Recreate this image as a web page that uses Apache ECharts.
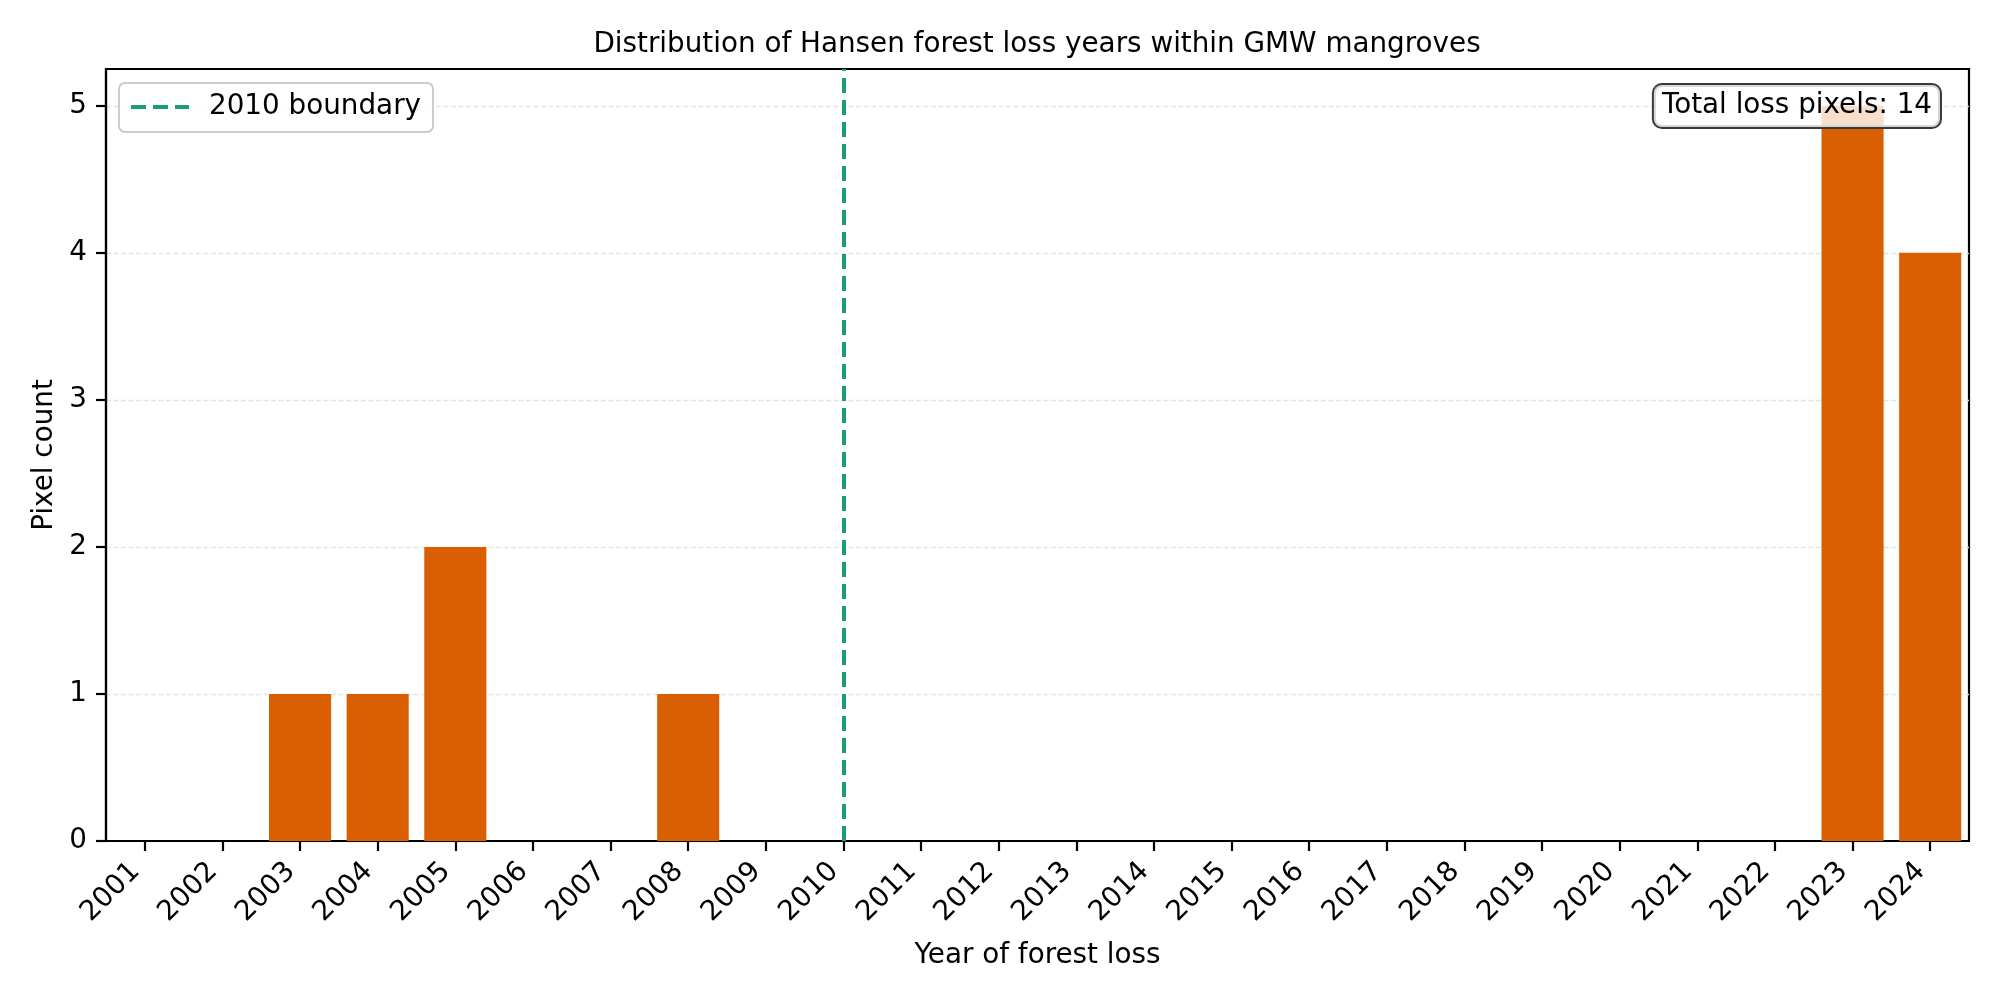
<!DOCTYPE html>
<html>
<head>
<meta charset="utf-8">
<script src="https://cdn.jsdelivr.net/npm/echarts@6/dist/echarts.min.js"></script>
<style>
html,body{margin:0;padding:0;background:#fff;overflow:hidden}
#chart{width:2000px;height:1000px}
</style>
</head>
<body>
<div id="chart"></div>
<script>
const years = ['2001','2002','2003','2004','2005','2006','2007','2008','2009','2010','2011','2012','2013','2014','2015','2016','2017','2018','2019','2020','2021','2022','2023','2024'];
const pixelCounts = [0,0,1,1,2,0,0,1,0,0,0,0,0,0,0,0,0,0,0,0,0,0,5,4];
const yTicks = [0,1,2,3,4,5];
const boundaryYear = '2010';
const titleText = 'Distribution of Hansen forest loss years within GMW mangroves';
const xName = 'Year of forest loss';
const yName = 'Pixel count';
const legendName = '2010 boundary';

const total = pixelCounts.reduce((a,b)=>a+b,0);
const FONT = 'DejaVu Sans';
const FS = 27.8;

const option = {
  animation: false,
  backgroundColor: '#ffffff',
  title: {
    text: titleText,
    left: 1037, textAlign: 'center',
    top: 31, padding: 0,
    textStyle: {fontFamily: FONT, fontSize: FS, fontWeight: 'normal', color: '#000'}
  },
  grid: {
    left: 106, right: 31, top: 69, bottom: 159,
    show: true, borderColor: '#000', borderWidth: 2.2, backgroundColor: 'transparent'
  },
  legend: {
    data: [legendName],
    left: 119, top: 83,
    itemWidth: 58, itemHeight: 14,
    padding: [10, 12, 11, 10],
    borderColor: '#cccccc', borderWidth: 2, borderRadius: 6,
    backgroundColor: 'rgba(255,255,255,0.8)',
    itemStyle: {color: 'rgba(0,0,0,0)', borderColor: 'rgba(0,0,0,0)', borderWidth: 0, opacity: 0},
    lineStyle: {color: '#1b9e77', width: 4, type: [15, 7]},
    textStyle: {fontFamily: FONT, fontSize: FS, color: '#000', padding: [0,0,0,15]}
  },
  xAxis: {
    type: 'category',
    data: years,
    boundaryGap: true,
    name: xName, nameLocation: 'middle', nameGap: 101,
    nameTextStyle: {fontFamily: FONT, fontSize: FS, color: '#000'},
    axisLine: {show: true, lineStyle: {color: '#000', width: 2.2}},
    axisTick: {show: true, inside: false, alignWithLabel: true, length: 10, lineStyle: {color: '#000', width: 2.2}},
    axisLabel: {interval: 0, rotate: 45, margin: 17, padding: [0, 13, 0, 0], fontFamily: FONT, fontSize: FS, color: '#000'},
    splitLine: {show: false}
  },
  yAxis: {
    type: 'value',
    min: 0, max: 5.25, interval: 1,
    name: yName, nameLocation: 'middle', nameGap: 47,
    nameTextStyle: {fontFamily: FONT, fontSize: FS, color: '#000'},
    axisLine: {show: true, lineStyle: {color: '#000', width: 2.2}},
    axisTick: {show: true, inside: false, length: 10, customValues: yTicks, lineStyle: {color: '#000', width: 2.2}},
    axisLabel: {customValues: yTicks, margin: 19, fontFamily: FONT, fontSize: FS, color: '#000'},
    splitLine: {show: true, lineStyle: {color: '#e3e3e3', width: 1.4, type: [5, 2.5]}}
  },
  series: [
    {
      type: 'bar',
      name: 'Pixel count',
      data: pixelCounts,
      barWidth: '80%',
      itemStyle: {color: '#d95f02'},
      z: 2
    },
    {
      type: 'line',
      name: legendName,
      data: [],
      symbol: 'none',
      lineStyle: {color: '#1b9e77', width: 4, type: [15, 7]},
      itemStyle: {color: 'rgba(0,0,0,0)'},
      markLine: {
        silent: true,
        symbol: ['none','none'],
        label: {show: false},
        lineStyle: {color: '#1b9e77', width: 4, type: [15, 7]},
        data: [{xAxis: boundaryYear}]
      },
      z: 3
    }
  ],
  graphic: [{
    type: 'text',
    right: 58, top: 83, z: 100,
    style: {
      text: 'Total loss pixels: ' + total,
      font: FS + 'px "' + FONT + '"',
      fill: '#000',
      backgroundColor: 'rgba(255,255,255,0.8)',
      borderColor: '#3a3a3a', borderWidth: 2, borderRadius: 8,
      padding: [7, 8, 7, 8]
    }
  }]
};
echarts.init(document.getElementById('chart'), null, {renderer: 'canvas'}).setOption(option);
</script>
</body>
</html>
